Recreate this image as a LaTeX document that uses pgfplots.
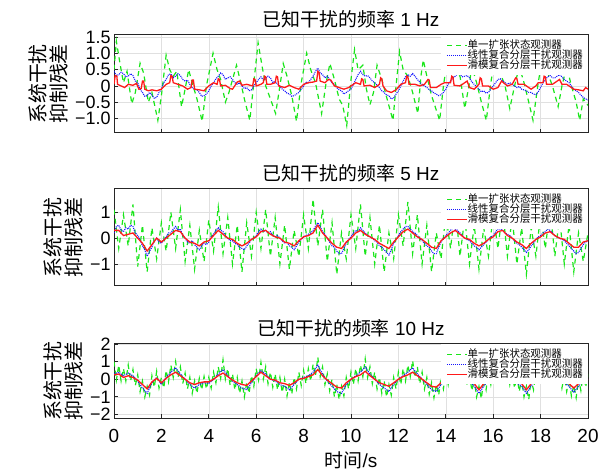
\documentclass[border=0pt]{standalone}
\usepackage{fontspec}
\setmainfont{Liberation Sans}
\newfontfamily\cjk{Noto Sans CJK SC}
\usepackage{pgfplots}
\pgfplotsset{compat=1.18}
\definecolor{gline}{RGB}{25,230,25}
\definecolor{bline}{RGB}{20,20,255}
\definecolor{rline}{RGB}{255,25,25}

\pgfplotsset{
  panel/.style={
    scale only axis, width=474bp, anchor=south west,
    xmin=0, xmax=20, xtick={0,2,...,20}, xticklabels={},
    tick align=inside, xtick pos=bottom, ytick pos=left,
    major tick length=4bp,
    grid=major, major grid style={black!12, line width=0.6bp},
    axis line style={black!85, line width=1bp},
    tick style={black!85, line width=0.8bp},
    title style={font=\fontsize{19}{22}\selectfont, inner sep=1bp},
    yticklabel style={font=\fontsize{18}{20}\selectfont},
    ylabel style={font=\cjk\fontsize{20}{21}\selectfont, align=center},
    ylabel={系统干扰\\抑制残差},
    legend cell align=left,
    legend image code/.code={\draw[##1] (0bp,0bp) -- (20bp,0bp);},
    legend style={at={(1,1)}, anchor=north east, draw=none, fill=white,
      font=\cjk\fontsize{10.5}{10.5}\selectfont, inner sep=5bp,
      nodes={inner sep=0pt, text height=8bp, text depth=2bp}},
  },
}

\begin{document}
\begin{tikzpicture}
\path[use as bounding box] (0,0) rectangle (600bp,471bp);

% ---- 1 Hz ----
\begin{axis}[panel, at={(114bp,338bp)}, height=98bp,
    ymin=-1.45, ymax=1.57,
    ytick={-1,-0.5,0,0.5,1,1.5},
    yticklabels={−1.0,−0.5,0,0.5,1.0,1.5},
    title={{\cjk 已知干扰的频率} 1 Hz}]
\addplot[color=gline, line width=1.2bp, dash pattern=on 5bp off 4bp] coordinates {
(0,0.5)(0.1,1.38)(0.25,0.7)(0.4,0.1)(0.55,0.45)(0.75,-0.55)(0.9,-0.2)(1.1,0.7)(1.25,0.4)(1.45,-0.5)
(1.6,-0.2)(1.85,-1.06)(2.0,-0.3)(2.2,0.95)(2.35,0.5)(2.5,0.3)(2.65,0.45)(2.85,-0.64)(3.0,-0.1)(3.15,0.5)
(3.3,0.1)(3.5,-0.4)(3.72,-1.09)(3.9,0.0)(4.18,1.01)(4.35,0.5)(4.5,0.2)(4.7,-0.5)(4.85,-0.2)(5.17,0.64)
(5.35,0.1)(5.5,-0.4)(5.73,-1.06)(5.9,0.1)(6.08,1.33)(6.25,0.6)(6.4,0.0)(6.6,-0.4)(6.82,-0.85)(7.0,0.0)
(7.14,0.69)(7.3,0.3)(7.5,-0.3)(7.7,-1.09)(7.9,0.1)(8.13,1.01)(8.3,0.5)(8.5,0.1)(8.76,-0.85)(8.95,0.1)
(9.11,0.69)(9.3,0.2)(9.5,-0.4)(9.65,-0.6)(9.82,-1.22)(10.0,0.2)(10.15,1.12)(10.3,0.5)(10.5,0.64)(10.65,-0.1)
(10.8,-0.58)(10.95,-0.2)(11.1,0.64)(11.3,0.2)(11.63,-0.69)(11.77,-1.06)(11.9,0.0)(12.05,1.06)(12.2,0.5)(12.4,0.3)
(12.6,-0.2)(12.82,-0.85)(12.95,0.3)(13.05,0.8)(13.2,0.3)(13.4,-0.3)(13.74,-1.06)(13.9,0.0)(14.1,1.0)(14.3,0.5)
(14.6,0.3)(14.8,-0.69)(15.0,0.1)(15.1,0.6)(15.3,0.1)(15.5,-0.5)(15.71,-1.06)(15.9,0.1)(16.1,1.0)(16.3,0.4)
(16.5,0.0)(16.7,-0.7)(16.9,0.0)(17.1,0.6)(17.3,0.1)(17.5,-0.5)(17.68,-1.06)(17.9,0.1)(18.1,1.0)(18.3,0.4)
(18.5,0.0)(18.74,-0.64)(18.9,0.0)(19.1,0.6)(19.3,0.0)(19.5,-0.5)(19.65,-1.06)(19.8,-0.4)(20.0,-0.6)
};
\addplot[color=bline, line width=1.1bp, dash pattern=on 1bp off 1bp] coordinates {
(0,0.45)(0.1,0.32)(0.2,0.35)(0.3,0.42)(0.4,0.38)(0.5,0.28)(0.6,0.3)(0.7,0.38)(0.8,0.32)(0.9,0.15)
(1.0,0.1)(1.1,-0.1)(1.2,-0.2)(1.3,-0.32)(1.4,-0.3)(1.5,-0.2)(1.6,-0.28)(1.7,-0.38)(1.8,-0.35)(1.9,-0.2)
(2.0,-0.1)(2.1,0.1)(2.2,0.2)(2.3,0.35)(2.4,0.37)(2.5,0.25)(2.6,0.3)(2.7,0.38)(2.8,0.32)(2.9,0.2)
(3.0,0.15)(3.1,0.18)(3.2,0.05)(3.3,-0.05)(3.4,-0.1)(3.5,-0.12)(3.6,-0.2)(3.7,-0.32)(3.8,-0.3)(3.9,-0.25)
(4.0,-0.15)(4.1,0.0)(4.2,0.1)(4.3,0.22)(4.4,0.3)(4.5,0.4)(4.6,0.35)(4.7,0.2)(4.8,0.25)(4.9,0.28)
(5.0,0.2)(5.1,0.1)(5.2,0.05)(5.3,0.1)(5.4,0.0)(5.5,-0.08)(5.6,-0.05)(5.7,-0.15)(5.8,-0.12)(5.9,0.0)
(6.0,0.1)(6.1,0.2)(6.2,0.28)(6.3,0.18)(6.4,0.22)(6.5,0.3)(6.6,0.25)(6.7,0.1)(6.8,0.15)(6.9,0.05)
(7.0,0.0)(7.1,-0.1)(7.2,-0.15)(7.3,-0.22)(7.4,-0.25)(7.5,-0.32)(7.6,-0.3)(7.7,-0.25)(7.8,-0.2)(7.9,-0.1)
(8.0,0.0)(8.1,0.12)(8.2,0.1)(8.3,0.2)(8.4,0.3)(8.5,0.45)(8.6,0.55)(8.7,0.4)(8.8,0.35)(8.9,0.25)
(9.0,0.3)(9.1,0.2)(9.2,0.1)(9.3,0.05)(9.4,-0.05)(9.5,-0.12)(9.6,-0.15)(9.7,-0.25)(9.8,-0.2)(9.9,-0.15)
(10.0,-0.1)(10.1,0.05)(10.2,0.2)(10.3,0.35)(10.4,0.45)(10.5,0.35)(10.6,0.3)(10.7,0.32)(10.8,0.25)(10.9,0.15)
(11.0,0.1)(11.1,0.02)(11.2,-0.05)(11.3,-0.15)(11.4,-0.2)(11.5,-0.28)(11.6,-0.3)(11.7,-0.4)(11.8,-0.37)(11.9,-0.25)
(12.0,-0.15)(12.1,0.0)(12.2,0.15)(12.3,0.28)(12.4,0.35)(12.5,0.3)(12.6,0.38)(12.7,0.3)(12.8,0.2)(12.9,0.12)
(13.0,0.05)(13.1,0.0)(13.2,-0.05)(13.3,-0.12)(13.4,-0.15)(13.5,-0.22)(13.6,-0.25)(13.7,-0.3)(13.8,-0.27)(13.9,-0.2)
(14.0,-0.1)(14.1,0.05)(14.2,0.15)(14.3,0.25)(14.4,0.3)(14.5,0.38)(14.6,0.37)(14.7,0.28)(14.8,0.3)(14.9,0.32)
(15.0,0.25)(15.1,0.12)(15.2,0.05)(15.3,-0.02)(15.4,-0.1)(15.5,-0.18)(15.6,-0.15)(15.7,-0.22)(15.8,-0.2)(15.9,-0.1)
(16.0,0.0)(16.1,0.1)(16.2,0.2)(16.3,0.22)(16.4,0.15)(16.5,0.1)(16.6,0.05)(16.7,0.1)(16.8,0.05)(16.9,0.0)
(17.0,-0.05)(17.1,-0.02)(17.2,-0.1)(17.3,-0.12)(17.4,-0.15)(17.5,-0.2)(17.6,-0.2)(17.7,-0.25)(17.8,-0.27)(17.9,-0.18)
(18.0,-0.05)(18.1,0.1)(18.2,0.2)(18.3,0.28)(18.4,0.32)(18.5,0.25)(18.6,0.25)(18.7,0.3)(18.8,0.35)(18.9,0.28)
(19.0,0.2)(19.1,0.15)(19.2,0.1)(19.3,0.0)(19.4,-0.1)(19.5,-0.15)(19.6,-0.2)(19.7,-0.28)(19.8,-0.35)(19.9,-0.4)(20.0,-0.43)
};
\addplot[color=rline, line width=1.3bp] coordinates {
(0,0.05)(0.05,0.32)(0.12,0.3)(0.15,0.05)(0.3,0.0)(0.45,-0.05)(0.6,0.05)(0.8,0.02)(0.95,0.08)(1.05,-0.1)
(1.15,-0.08)(1.2,0.15)(1.25,0.15)(1.3,-0.1)(1.45,-0.15)(1.6,-0.12)(1.8,-0.15)(2.0,-0.1)(2.2,0.05)(2.35,0.1)
(2.4,0.32)(2.45,0.3)(2.5,0.1)(2.7,0.05)(2.9,0.0)(3.1,-0.1)(3.25,-0.05)(3.3,0.18)(3.35,0.18)(3.4,-0.1)
(3.6,-0.12)(3.8,-0.15)(4.0,0.0)(4.2,0.1)(4.35,0.05)(4.4,0.22)(4.45,0.2)(4.5,0.0)(4.7,0.02)(4.9,-0.08)
(5.0,-0.1)(5.2,0.12)(5.3,0.15)(5.4,0.02)(5.6,0.05)(5.85,0.0)(5.9,0.22)(5.95,0.2)(6.0,0.0)(6.2,0.05)
(6.3,0.1)(6.35,0.3)(6.4,0.28)(6.45,0.05)(6.6,0.05)(6.8,0.1)(6.85,0.3)(6.9,0.28)(6.95,0.0)(7.2,-0.05)
(7.4,0.02)(7.6,-0.05)(7.8,-0.1)(8.0,0.05)(8.2,0.1)(8.4,0.12)(8.55,0.15)(8.6,0.45)(8.65,0.42)(8.7,0.15)
(8.9,0.1)(9.05,0.2)(9.15,0.18)(9.3,0.0)(9.5,-0.05)(9.7,-0.1)(9.9,-0.05)(10.0,0.0)(10.2,0.1)(10.4,0.05)
(10.45,0.22)(10.5,0.2)(10.55,0.0)(10.8,0.02)(11.0,-0.05)(11.2,0.05)(11.25,0.25)(11.3,0.22)(11.35,0.0)(11.5,-0.15)
(11.7,-0.2)(11.9,-0.12)(12.1,0.05)(12.3,0.1)(12.35,0.3)(12.4,0.28)(12.45,0.05)(12.7,0.05)(12.9,0.0)(13.1,0.05)
(13.25,0.2)(13.3,0.18)(13.35,-0.05)(13.6,-0.05)(13.8,0.05)(13.95,0.1)(14.2,0.1)(14.25,0.3)(14.3,0.28)(14.35,0.02)
(14.6,0.0)(14.8,0.1)(14.9,0.15)(15.0,-0.05)(15.2,-0.1)(15.4,0.05)(15.45,0.25)(15.5,0.22)(15.55,0.0)(15.8,0.0)
(16.0,-0.1)(16.2,-0.05)(16.35,0.15)(16.4,0.12)(16.6,0.0)(16.8,0.05)(16.95,0.25)(17.0,0.22)(17.05,0.05)(17.3,0.05)
(17.5,-0.05)(17.6,-0.1)(17.8,0.0)(17.9,0.1)(18.1,0.1)(18.15,0.3)(18.2,0.28)(18.25,0.05)(18.5,0.05)(18.7,0.15)
(18.8,0.2)(18.9,0.05)(19.1,0.05)(19.3,-0.05)(19.4,-0.1)(19.6,-0.12)(19.8,-0.15)(19.9,-0.05)(20.0,-0.1)
};
\legend{单一扩张状态观测器,线性复合分层干扰观测器,滑模复合分层干扰观测器}
\end{axis}

% ---- 5 Hz ----
\begin{axis}[panel, at={(114bp,185bp)}, height=97bp,
    ymin=-1.85, ymax=1.9,
    ytick={-1,0,1}, yticklabels={−1,0,1},
    title={{\cjk 已知干扰的频率} 5 Hz}]
\addplot[color=gline, line width=1.2bp, dash pattern=on 5bp off 4bp] coordinates {
(0.0,1.1)(0.2,-0.4)(0.4,0.9)(0.6,-0.3)(0.8,1.3)(1.0,-1.1)(1.2,0.5)(1.4,-1.3)(1.6,0.4)(1.8,-0.8)
(2.0,0.6)(2.2,-0.5)(2.4,1.0)(2.6,-0.4)(2.8,1.1)(3.0,-0.9)(3.2,0.5)(3.4,-1.2)(3.6,0.3)(3.8,-0.9)
(4.0,0.7)(4.2,-0.5)(4.4,1.2)(4.6,-0.6)(4.8,0.8)(5.0,-1.0)(5.2,0.5)(5.4,-1.3)(5.6,0.6)(5.8,-0.7)
(6.0,1.0)(6.2,-0.4)(6.4,1.1)(6.6,-0.7)(6.8,0.8)(7.0,-1.0)(7.2,0.5)(7.4,-1.2)(7.6,0.3)(7.8,-0.7)
(8.0,0.9)(8.2,-0.4)(8.4,1.5)(8.6,-0.3)(8.8,1.1)(9.0,-0.9)(9.2,0.6)(9.4,-1.4)(9.6,0.2)(9.8,-0.8)
(10.0,0.9)(10.2,-0.4)(10.4,1.3)(10.6,-0.7)(10.8,0.8)(11.0,-1.0)(11.2,0.5)(11.4,-1.3)(11.6,0.2)(11.8,-0.8)
(12.0,0.9)(12.2,-0.3)(12.4,1.4)(12.6,-0.6)(12.8,0.9)(13.0,-1.0)(13.2,0.5)(13.4,-1.3)(13.6,0.2)(13.8,-0.8)
(14.0,0.9)(14.2,-0.4)(14.4,1.2)(14.6,-0.7)(14.8,0.8)(15.0,-1.0)(15.2,0.5)(15.4,-1.2)(15.6,0.4)(15.8,-0.7)
(16.0,0.9)(16.2,-0.4)(16.4,1.1)(16.6,-0.7)(16.8,0.8)(17.0,-1.0)(17.2,0.4)(17.4,-1.4)(17.6,0.4)(17.8,-0.7)
(18.0,0.9)(18.2,-0.4)(18.4,1.2)(18.6,-0.7)(18.8,0.8)(19.0,-1.0)(19.2,0.5)(19.4,-1.3)(19.6,0.2)(19.8,-0.9)(20.0,0.2)
};
\addplot[color=bline, line width=1.1bp, dash pattern=on 1bp off 1bp] coordinates {
(0,0.2)(0.1,0.45)(0.2,0.5)(0.3,0.3)(0.4,0.25)(0.5,0.4)(0.6,0.35)(0.7,0.5)(0.8,0.45)(0.9,0.2)
(1.0,0.1)(1.1,-0.05)(1.2,-0.3)(1.3,-0.45)(1.4,-0.7)(1.5,-0.5)(1.6,-0.35)(1.7,-0.1)(1.8,0.0)(1.9,-0.15)
(2.0,-0.2)(2.1,-0.05)(2.2,0.05)(2.3,0.2)(2.4,0.2)(2.5,0.35)(2.6,0.45)(2.7,0.3)(2.8,0.35)(2.9,0.1)
(3.0,0.0)(3.1,-0.15)(3.2,-0.2)(3.3,-0.1)(3.4,-0.25)(3.5,-0.35)(3.6,-0.45)(3.7,-0.3)(3.8,-0.2)(3.9,-0.25)
(4.0,-0.15)(4.1,0.05)(4.2,0.15)(4.3,0.3)(4.4,0.4)(4.5,0.3)(4.6,0.25)(4.7,0.1)(4.8,0.0)(4.9,-0.1)
(5.0,-0.1)(5.1,-0.2)(5.2,-0.25)(5.3,-0.35)(5.4,-0.4)(5.5,-0.45)(5.6,-0.3)(5.7,-0.2)(5.8,-0.05)(5.9,0.0)
(6.0,0.1)(6.1,0.25)(6.2,0.35)(6.3,0.25)(6.4,0.3)(6.5,0.2)(6.6,0.25)(6.7,0.1)(6.8,0.05)(6.9,0.1)
(7.0,0.0)(7.1,-0.1)(7.2,-0.2)(7.3,-0.15)(7.4,-0.3)(7.5,-0.35)(7.6,-0.45)(7.7,-0.3)(7.8,-0.15)(7.9,-0.05)
(8.0,0.05)(8.1,0.1)(8.2,0.15)(8.3,0.2)(8.4,0.3)(8.5,0.45)(8.6,0.6)(8.7,0.45)(8.8,0.25)(8.9,0.15)
(9.0,0.0)(9.1,-0.15)(9.2,-0.3)(9.3,-0.35)(9.4,-0.5)(9.5,-0.6)(9.6,-0.6)(9.7,-0.4)(9.8,-0.2)(9.9,-0.05)
(10.0,0.05)(10.1,0.2)(10.2,0.3)(10.3,0.25)(10.4,0.4)(10.5,0.3)(10.6,0.2)(10.7,0.1)(10.8,0.05)(10.9,0.0)
(11.0,-0.1)(11.1,-0.15)(11.2,-0.3)(11.3,-0.35)(11.4,-0.45)(11.5,-0.55)(11.6,-0.65)(11.7,-0.45)(11.8,-0.2)(11.9,-0.05)
(12.0,0.1)(12.1,0.25)(12.2,0.35)(12.3,0.45)(12.4,0.45)(12.5,0.35)(12.6,0.25)(12.7,0.2)(12.8,0.1)(12.9,0.0)
(13.0,-0.1)(13.1,-0.2)(13.2,-0.3)(13.3,-0.35)(13.4,-0.5)(13.5,-0.6)(13.6,-0.6)(13.7,-0.35)(13.8,-0.15)(13.9,0.0)
(14.0,0.1)(14.1,0.2)(14.2,0.3)(14.3,0.4)(14.4,0.35)(14.5,0.3)(14.6,0.2)(14.7,0.1)(14.8,0.0)(14.9,-0.05)
(15.0,-0.1)(15.1,-0.2)(15.2,-0.3)(15.3,-0.35)(15.4,-0.45)(15.5,-0.35)(15.6,-0.25)(15.7,-0.15)(15.8,-0.05)(15.9,0.05)
(16.0,0.1)(16.1,0.25)(16.2,0.35)(16.3,0.35)(16.4,0.3)(16.5,0.2)(16.6,0.15)(16.7,0.1)(16.8,0.0)(16.9,-0.1)
(17.0,-0.2)(17.1,-0.25)(17.2,-0.35)(17.3,-0.45)(17.4,-0.55)(17.5,-0.45)(17.6,-0.3)(17.7,-0.2)(17.8,-0.05)(17.9,0.05)
(18.0,0.1)(18.1,0.2)(18.2,0.25)(18.3,0.35)(18.4,0.3)(18.5,0.2)(18.6,0.1)(18.7,0.05)(18.8,0.0)(18.9,-0.05)
(19.0,-0.1)(19.1,-0.2)(19.2,-0.3)(19.3,-0.4)(19.4,-0.5)(19.5,-0.6)(19.6,-0.55)(19.7,-0.4)(19.8,-0.25)(19.9,-0.15)(20.0,-0.1)
};
\addplot[color=rline, line width=1.3bp] coordinates {
(0,0.3)(0.2,0.3)(0.4,0.1)(0.6,0.15)(0.8,0.2)(1.0,0.0)(1.2,-0.2)(1.4,-0.5)(1.6,-0.25)(1.8,0.0)
(2.0,-0.15)(2.2,0.0)(2.4,0.15)(2.6,0.3)(2.8,0.25)(3.0,0.0)(3.2,-0.15)(3.4,-0.2)(3.6,-0.3)(3.8,-0.15)
(4.0,-0.1)(4.2,0.1)(4.4,0.3)(4.6,0.15)(4.8,0.0)(5.0,-0.05)(5.2,-0.2)(5.4,-0.3)(5.6,-0.2)(5.8,-0.05)
(6.0,0.05)(6.2,0.25)(6.4,0.3)(6.6,0.15)(6.8,0.05)(7.0,0.0)(7.2,-0.15)(7.4,-0.2)(7.6,-0.3)(7.8,-0.1)
(8.0,0.05)(8.2,0.1)(8.4,0.2)(8.6,0.5)(8.8,0.2)(9.0,0.0)(9.2,-0.2)(9.4,-0.35)(9.6,-0.4)(9.8,-0.15)
(10.0,0.0)(10.2,0.2)(10.4,0.3)(10.6,0.15)(10.8,0.05)(11.0,-0.05)(11.2,-0.2)(11.4,-0.3)(11.6,-0.4)(11.8,-0.15)
(12.0,0.05)(12.2,0.25)(12.4,0.35)(12.6,0.2)(12.8,0.05)(13.0,-0.05)(13.2,-0.2)(13.4,-0.35)(13.6,-0.4)(13.8,-0.1)
(14.0,0.05)(14.2,0.2)(14.4,0.3)(14.6,0.15)(14.8,0.0)(15.0,-0.05)(15.2,-0.2)(15.4,-0.3)(15.6,-0.2)(15.8,-0.05)
(16.0,0.05)(16.2,0.25)(16.4,0.3)(16.6,0.1)(16.8,0.0)(17.0,-0.15)(17.2,-0.25)(17.4,-0.4)(17.6,-0.2)(17.8,-0.05)
(18.0,0.05)(18.2,0.2)(18.4,0.25)(18.6,0.1)(18.8,0.0)(19.0,-0.05)(19.2,-0.2)(19.4,-0.35)(19.6,-0.35)(19.8,-0.15)(20.0,-0.1)
};
\legend{单一扩张状态观测器,线性复合分层干扰观测器,滑模复合分层干扰观测器}
\end{axis}

% ---- 10 Hz ----
\begin{axis}[panel, at={(114bp,53bp)}, height=74bp,
    ymin=-2.2, ymax=2,
    ytick={-2,-1,0,1,2}, yticklabels={−2,−1,0,1,2},
    xticklabels={0,2,4,6,8,10,12,14,16,18,20},
    xticklabel style={font=\fontsize{19}{22}\selectfont, yshift=-8bp},
    xlabel={{\cjk 时间}/s},
    xlabel style={font=\fontsize{19}{22}\selectfont, at={(axis description cs:0.5,0)}, anchor=center, yshift=-42bp},
    title={{\cjk 已知干扰的频率} 10 Hz}]
\addplot[color=gline, line width=1.2bp, dash pattern=on 5bp off 4bp] coordinates {
(0.0,1.0)(0.1,-0.05)(0.2,0.8)(0.3,-0.1)(0.4,0.6)(0.5,-0.1)(0.6,0.8)(0.7,-0.1)(0.8,0.55)(0.9,-0.35)
(1.0,0.25)(1.1,-0.7)(1.2,-0.1)(1.3,-1.0)(1.4,-0.4)(1.5,-0.9)(1.6,0.2)(1.7,-0.45)(1.8,0.45)(1.9,-0.5)
(2.0,0.1)(2.1,-0.5)(2.2,0.5)(2.3,-0.15)(2.4,0.8)(2.5,0.1)(2.6,1.0)(2.7,0.1)(2.8,0.7)(2.9,-0.25)
(3.0,0.35)(3.1,-0.55)(3.2,0.1)(3.3,-0.8)(3.4,-0.1)(3.5,-0.8)(3.6,0.05)(3.7,-0.6)(3.8,0.15)(3.9,-0.55)
(4.0,0.1)(4.1,-0.5)(4.2,0.4)(4.3,-0.2)(4.4,0.7)(4.5,0.05)(4.6,1.1)(4.7,0.0)(4.8,0.6)(4.9,-0.35)
(5.0,0.3)(5.1,-0.6)(5.2,0.1)(5.3,-0.8)(5.4,-0.1)(5.5,-1.0)(5.6,-0.2)(5.7,-0.8)(5.8,0.2)(5.9,-0.4)
(6.0,0.6)(6.1,-0.05)(6.2,0.95)(6.3,0.0)(6.4,0.7)(6.5,-0.25)(6.6,0.4)(6.7,-0.45)(6.8,0.3)(6.9,-0.6)
(7.0,0.1)(7.1,-0.75)(7.2,0.0)(7.3,-0.95)(7.4,-0.2)(7.5,-0.85)(7.6,0.1)(7.7,-0.55)(7.8,0.4)(7.9,-0.35)
(8.0,0.5)(8.1,-0.25)(8.2,0.6)(8.3,-0.1)(8.4,0.85)(8.5,0.2)(8.6,1.25)(8.7,0.15)(8.8,0.7)(8.9,-0.3)
(9.0,0.3)(9.1,-0.65)(9.2,0.0)(9.3,-1.0)(9.4,-0.3)(9.5,-1.15)(9.6,-0.4)(9.7,-0.95)(9.8,0.1)(9.9,-0.55)
(10.0,0.4)(10.1,-0.3)(10.2,0.6)(10.3,-0.1)(10.4,0.8)(10.5,0.15)(10.6,1.15)(10.7,0.1)(10.8,0.7)(10.9,-0.25)
(11.0,0.4)(11.1,-0.55)(11.2,0.1)(11.3,-0.8)(11.4,-0.1)(11.5,-1.0)(11.6,-0.3)(11.7,-0.9)(11.8,0.1)(11.9,-0.55)
(12.0,0.4)(12.1,-0.3)(12.2,0.6)(12.3,-0.1)(12.4,0.8)(12.5,0.15)(12.6,1.05)(12.7,0.1)(12.8,0.7)(12.9,-0.25)
(13.0,0.4)(13.1,-0.55)(13.2,0.1)(13.3,-0.85)(13.4,-0.2)(13.5,-1.05)(13.6,-0.3)(13.7,-0.9)(13.8,0.1)(13.9,-0.55)
(14.0,0.4)(14.1,-0.3)(14.2,0.6)(14.3,-0.1)(14.4,0.8)(14.5,0.05)(14.6,0.9)(14.7,-0.05)(14.8,0.6)(14.9,-0.35)
(15.0,0.3)(15.1,-0.65)(15.2,0.0)(15.3,-1.0)(15.4,-0.4)(15.5,-1.1)(15.6,0.0)(15.7,-0.6)(15.8,0.4)(15.9,-0.3)
(16.0,0.6)(16.1,-0.1)(16.2,0.8)(16.3,0.05)(16.4,0.9)(16.5,-0.05)(16.6,0.6)(16.7,-0.3)(16.8,0.4)(16.9,-0.5)
(17.0,0.2)(17.1,-0.7)(17.2,0.0)(17.3,-1.0)(17.4,-0.4)(17.5,-1.15)(17.6,0.0)(17.7,-0.6)(17.8,0.4)(17.9,-0.3)
(18.0,0.6)(18.1,-0.1)(18.2,0.8)(18.3,0.05)(18.4,0.9)(18.5,-0.05)(18.6,0.6)(18.7,-0.3)(18.8,0.4)(18.9,-0.5)
(19.0,0.2)(19.1,-0.7)(19.2,0.0)(19.3,-0.95)(19.4,-0.35)(19.5,-1.05)(19.6,0.0)(19.7,-0.65)(19.8,0.3)(19.9,-0.45)(20.0,0.3)
};
\addplot[color=bline, line width=1.1bp, dash pattern=on 1bp off 1bp] coordinates {
(0,0.3)(0.2,0.4)(0.4,0.2)(0.6,0.35)(0.8,0.2)(1.0,-0.1)(1.2,-0.5)(1.4,-0.8)(1.6,-0.2)(1.8,0.1)
(2.0,-0.3)(2.2,0.1)(2.4,0.4)(2.6,0.65)(2.8,0.3)(3.0,0.0)(3.2,-0.3)(3.4,-0.5)(3.6,-0.3)(3.8,-0.2)
(4.0,-0.25)(4.2,0.0)(4.4,0.3)(4.6,0.55)(4.8,0.2)(5.0,-0.1)(5.2,-0.3)(5.4,-0.5)(5.6,-0.6)(5.8,-0.2)
(6.0,0.2)(6.2,0.5)(6.4,0.3)(6.6,0.0)(6.8,-0.1)(7.0,-0.3)(7.2,-0.4)(7.4,-0.6)(7.6,-0.3)(7.8,0.0)
(8.0,0.1)(8.2,0.2)(8.4,0.4)(8.6,0.8)(8.8,0.3)(9.0,-0.1)(9.2,-0.4)(9.4,-0.7)(9.6,-0.8)(9.8,-0.3)
(10.0,0.0)(10.2,0.2)(10.4,0.4)(10.6,0.7)(10.8,0.3)(11.0,0.0)(11.2,-0.3)(11.4,-0.5)(11.6,-0.7)(11.8,-0.3)
(12.0,0.0)(12.2,0.2)(12.4,0.4)(12.6,0.65)(12.8,0.3)(13.0,0.0)(13.2,-0.3)(13.4,-0.6)(13.6,-0.7)(13.8,-0.3)
(14.0,0.0)(14.2,0.2)(14.4,0.4)(14.6,0.5)(14.8,0.2)(15.0,-0.1)(15.2,-0.4)(15.4,-0.8)(15.6,-0.4)(15.8,0.0)
(16.0,0.2)(16.2,0.4)(16.4,0.5)(16.6,0.2)(16.8,0.0)(17.0,-0.2)(17.2,-0.4)(17.4,-0.8)(17.6,-0.4)(17.8,0.0)
(18.0,0.2)(18.2,0.4)(18.4,0.5)(18.6,0.2)(18.8,0.0)(19.0,-0.2)(19.2,-0.4)(19.4,-0.75)(19.6,-0.4)(19.8,-0.1)(20.0,0.0)
};
\addplot[color=rline, line width=1.3bp] coordinates {
(0,0.25)(0.2,0.3)(0.4,0.1)(0.6,0.2)(0.8,0.1)(1.0,-0.05)(1.2,-0.3)(1.4,-0.55)(1.6,-0.15)(1.8,0.05)
(2.0,-0.2)(2.2,0.05)(2.4,0.25)(2.6,0.4)(2.8,0.2)(3.0,0.0)(3.2,-0.2)(3.4,-0.3)(3.6,-0.2)(3.8,-0.15)
(4.0,-0.15)(4.2,0.0)(4.4,0.2)(4.6,0.35)(4.8,0.15)(5.0,-0.05)(5.2,-0.2)(5.4,-0.3)(5.6,-0.35)(5.8,-0.1)
(6.0,0.15)(6.2,0.4)(6.4,0.2)(6.6,0.0)(6.8,-0.05)(7.0,-0.2)(7.2,-0.25)(7.4,-0.35)(7.6,-0.2)(7.8,0.0)
(8.0,0.05)(8.2,0.15)(8.4,0.25)(8.6,0.55)(8.8,0.2)(9.0,-0.05)(9.2,-0.25)(9.4,-0.45)(9.6,-0.5)(9.8,-0.2)
(10.0,0.0)(10.2,0.15)(10.4,0.25)(10.6,0.45)(10.8,0.2)(11.0,0.0)(11.2,-0.2)(11.4,-0.3)(11.6,-0.4)(11.8,-0.2)
(12.0,0.0)(12.2,0.15)(12.4,0.25)(12.6,0.4)(12.8,0.2)(13.0,0.0)(13.2,-0.2)(13.4,-0.4)(13.6,-0.45)(13.8,-0.2)
(14.0,0.0)(14.2,0.15)(14.4,0.25)(14.6,0.3)(14.8,0.1)(15.0,-0.05)(15.2,-0.25)(15.4,-0.6)(15.6,-0.25)(15.8,0.0)
(16.0,0.15)(16.2,0.25)(16.4,0.3)(16.6,0.1)(16.8,0.0)(17.0,-0.1)(17.2,-0.25)(17.4,-0.6)(17.6,-0.25)(17.8,0.0)
(18.0,0.15)(18.2,0.25)(18.4,0.3)(18.6,0.1)(18.8,0.0)(19.0,-0.1)(19.2,-0.25)(19.4,-0.5)(19.6,-0.25)(19.8,-0.05)(20.0,0.0)
};
\legend{单一扩张状态观测器,线性复合分层干扰观测器,滑模复合分层干扰观测器}
\end{axis}
\end{tikzpicture}
\end{document}
